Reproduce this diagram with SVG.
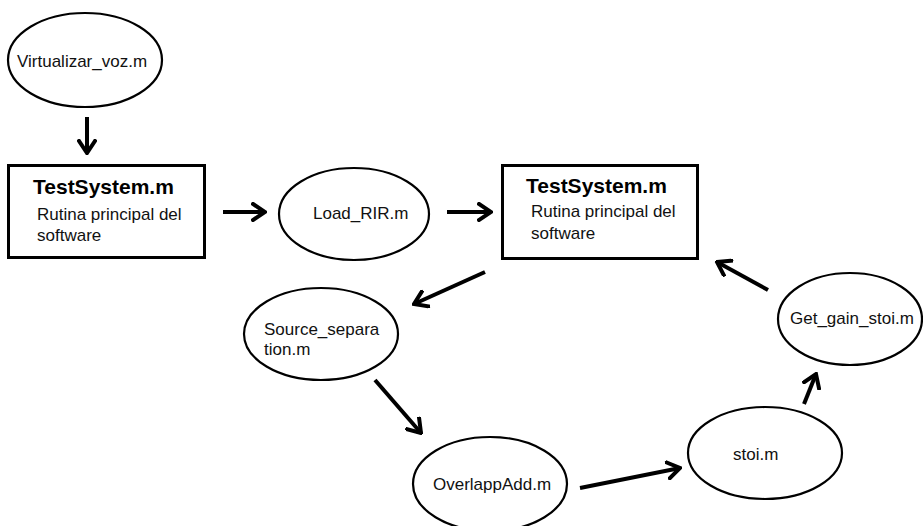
<svg xmlns="http://www.w3.org/2000/svg" width="923" height="526" viewBox="0 0 923 526">
<style>
.n{fill:#fff;stroke:#000;stroke-width:2.2}
.b{fill:#fff;stroke:#000;stroke-width:3}
.t{font-family:"Liberation Sans",Arial,sans-serif;font-size:17px;fill:#111}
.h{font-family:"Liberation Sans",Arial,sans-serif;font-size:21px;font-weight:bold;fill:#000}
.c{fill:none;stroke:#000;stroke-width:4;marker-end:url(#a)}
</style>
<defs>
<marker id="a" markerUnits="userSpaceOnUse" viewBox="-14 -10 16 20" refX="0" refY="0" markerWidth="16" markerHeight="20" orient="auto">
<path d="M-12,-8 L0,0 L-12,8" fill="none" stroke="#000" stroke-width="4" stroke-linecap="square"/>
</marker>
</defs>
<rect width="923" height="526" fill="#fff"/>
<g id="virtualizar">
<ellipse class="n" cx="85" cy="60" rx="77" ry="47"/>
<text class="t" x="17" y="67">Virtualizar_voz.m</text>
</g>
<g id="testsystem1">
<rect class="b" x="8.5" y="165.5" width="196" height="92"/>
<text class="h" x="33" y="194">TestSystem.m</text>
<text class="t" x="37" y="220">Rutina principal del</text>
<text class="t" x="37" y="241">software</text>
</g>
<g id="loadrir">
<ellipse class="n" cx="354" cy="214" rx="75" ry="46"/>
<text class="t" x="313" y="219">Load_RIR.m</text>
</g>
<g id="testsystem2">
<rect class="b" x="502.5" y="165.5" width="195" height="93"/>
<text class="h" x="526" y="193">TestSystem.m</text>
<text class="t" x="531" y="217">Rutina principal del</text>
<text class="t" x="531" y="239">software</text>
</g>
<g id="sourcesep">
<ellipse class="n" cx="321" cy="334" rx="77" ry="46"/>
<text class="t" x="264" y="335">Source_separa</text>
<text class="t" x="264" y="355">tion.m</text>
</g>
<g id="overlappadd">
<ellipse class="n" cx="490" cy="484" rx="77" ry="47"/>
<text class="t" x="433" y="490">OverlappAdd.m</text>
</g>
<g id="stoi">
<ellipse class="n" cx="765" cy="453" rx="77" ry="46"/>
<text class="t" x="733" y="460">stoi.m</text>
</g>
<g id="getgain">
<ellipse class="n" cx="850" cy="319" rx="72" ry="46"/>
<text class="t" x="790" y="324">Get_gain_stoi.m</text>
</g>
<g id="connectors">
<path class="c" d="M87,117 L87,153"/>
<path class="c" d="M223,212 L265,212"/>
<path class="c" d="M447,212 L491,212"/>
<path class="c" d="M485,272 L414,304"/>
<path class="c" d="M375,380 L421,433"/>
<path class="c" d="M580,488 L680,468"/>
<path class="c" d="M804,404 L816,374"/>
<path class="c" d="M768,290 L717,262"/>
</g>
</svg>
